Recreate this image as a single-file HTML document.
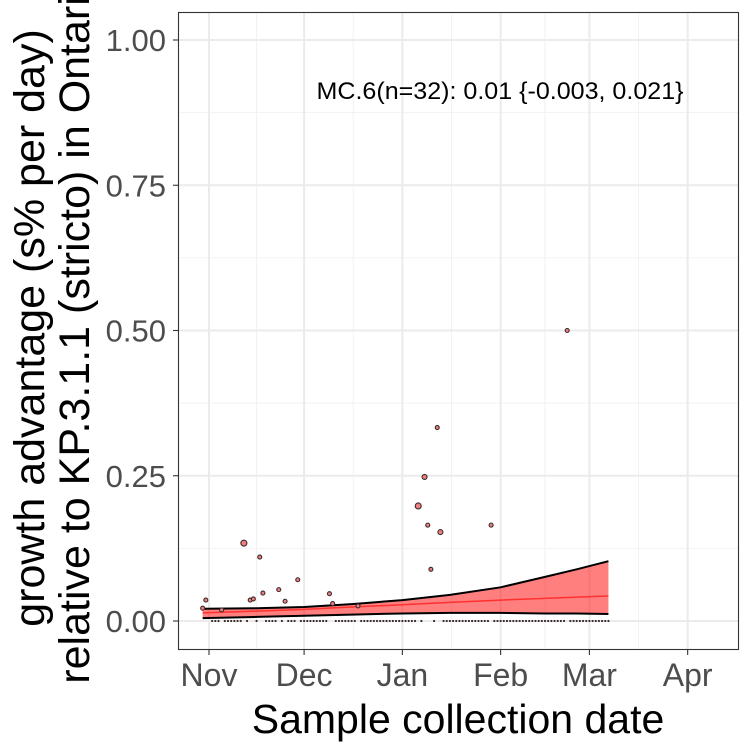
<!DOCTYPE html>
<html><head><meta charset="utf-8"><style>
body{margin:0;background:#fff}
svg text{font-family:"Liberation Sans",Arial,sans-serif}
</style></head><body>
<svg id="chart" width="750" height="750" xmlns="http://www.w3.org/2000/svg">
<rect x="0" y="0" width="750" height="750" fill="#fff"/>
<g id="grid"></g>
<g id="band"></g>
<g id="pts"></g>
<rect x="178.5" y="12.5" width="560" height="637" fill="none" stroke="#333" stroke-width="1.1"/>
<g id="axes"></g>
<text x="500" y="99" font-size="24" text-anchor="middle" fill="#000" textLength="367" lengthAdjust="spacingAndGlyphs">MC.6(n=32): 0.01 {-0.003, 0.021}</text>
<text x="458" y="733" font-size="41" text-anchor="middle" fill="#000">Sample collection date</text>
<g transform="translate(44,328) rotate(-90)">
<text x="0" y="0" font-size="43" text-anchor="middle" fill="#000">growth advantage (s% per day)</text>
<text x="0" y="45" font-size="43" text-anchor="middle" fill="#000">relative to KP.3.1.1 (stricto) in Ontario</text>
</g>
</svg>
<script>
// data
const yTicks=[0,0.25,0.5,0.75,1.0];
const yTickLabels=["0.00","0.25","0.50","0.75","1.00"];
const monthNames=["Nov","Dec","Jan","Feb","Mar","Apr"];
const monthDays=[0,30,61,92,120,151]; // days since Nov 1
const bandDays=[-2,15,30,45,61,76,92,106,116,126];
const bandUpper=[0.021,0.022,0.024,0.029,0.036,0.045,0.058,0.076,0.089,0.103];
const bandMean=[0.014,0.017,0.020,0.024,0.028,0.032,0.036,0.039,0.041,0.043];
const bandLower=[0.005,0.007,0.009,0.011,0.013,0.014,0.014,0.013,0.013,0.012];
const ptDays=[-2,-1,4,11,13,14,16,17,22,24,28,38,39,47,66,68,69,70,72,73,89,113];
const ptVals=[0.022,0.036,0.019,0.134,0.036,0.038,0.11,0.048,0.054,0.034,0.071,0.047,0.03,0.026,0.198,0.248,0.165,0.089,0.333,0.153,0.165,0.5];
const ptSizes=[2,2,2,3,2,2,2,2,2,2,2,2,2,2,3,2.5,2,2,2,2.5,2,2];
const zeroDays=[1,2,3,5,6,7,8,9,10,12,15,18,19,20,21,23,25,26,27,29,30,31,32,33,34,35,36,37,40,41,42,43,44,45,46,48,49,50,51,52,53,54,55,56,57,58,59,60,61,62,63,64,65,67,71,74,75,76,77,78,79,80,81,82,83,84,85,86,87,88,90,91,92,93,94,95,96,97,98,99,100,101,102,103,104,105,106,107,108,109,110,111,112,114,115,116,117,118,119,120,121,122,123,124,125,126];
// scales
const X=d=>209+d*3.17;
const Y=v=>621-v*581;
const NS="http://www.w3.org/2000/svg";
function mk(tag,attrs,parent){const e=document.createElementNS(NS,tag);for(const k in attrs)e.setAttribute(k,attrs[k]);parent.appendChild(e);return e;}
const grid=document.getElementById('grid'),band=document.getElementById('band'),pts=document.getElementById('pts'),axes=document.getElementById('axes');
for(let i=0;i<yTicks.length-1;i++){const v=(yTicks[i]+yTicks[i+1])/2;
const l=mk('line',{x1:178,x2:739,y1:Y(v),y2:Y(v),stroke:'#f2f2f2','stroke-width':1},grid);

}
for(let i=0;i<monthDays.length-1;i++){const d=(monthDays[i]+monthDays[i+1])/2;
const l=mk('line',{x1:X(d),x2:X(d),y1:12,y2:650,stroke:'#f2f2f2','stroke-width':1},grid);

}
yTicks.forEach((v,i)=>{
const l=mk('line',{x1:178,x2:739,y1:Y(v),y2:Y(v),stroke:'#ebebeb','stroke-width':2},grid);


const t=mk('line',{x1:173,x2:178,y1:Y(v),y2:Y(v),stroke:'#333','stroke-width':1.1},axes);


const tx=mk('text',{x:166,y:Y(v)+11,'font-size':31,'text-anchor':'end',fill:'#4d4d4d'},axes);
tx.textContent=yTickLabels[i];


});
monthDays.forEach((d,i)=>{
const l=mk('line',{x1:X(d),x2:X(d),y1:12,y2:650,stroke:'#ebebeb','stroke-width':2},grid);


const t=mk('line',{x1:X(d),x2:X(d),y1:650,y2:655,stroke:'#333','stroke-width':1.1},axes);


const tx=mk('text',{x:X(d),y:686,'font-size':32,'text-anchor':'middle',fill:'#4d4d4d'},axes);
tx.textContent=monthNames[i];


});
let up=bandDays.map((d,i)=>X(d)+','+Y(bandUpper[i]));
let lo=bandDays.map((d,i)=>X(d)+','+Y(bandLower[i])).reverse();
const poly=mk('polygon',{points:up.concat(lo).join(' '),fill:'#ff0000','fill-opacity':0.5,stroke:'none'},band);


const pu=mk('polyline',{points:up.join(' '),fill:'none',stroke:'#000','stroke-width':2},band);


const pl=mk('polyline',{points:bandDays.map((d,i)=>X(d)+','+Y(bandLower[i])).join(' '),fill:'none',stroke:'#000','stroke-width':2},band);


const pm=mk('polyline',{points:bandDays.map((d,i)=>X(d)+','+Y(bandMean[i])).join(' '),fill:'none',stroke:'#ff3030','stroke-width':1.5},band);


zeroDays.forEach(d=>{const c=mk('circle',{cx:X(d),cy:Y(0),r:1.1,fill:'#3a2a2a'},pts);

});
ptDays.forEach((d,i)=>{const c=mk('circle',{cx:X(d),cy:Y(ptVals[i]),r:ptSizes[i],fill:'#f08080',stroke:'#3a2a2a','stroke-width':1.1},pts);

});
</script>
</body></html>
